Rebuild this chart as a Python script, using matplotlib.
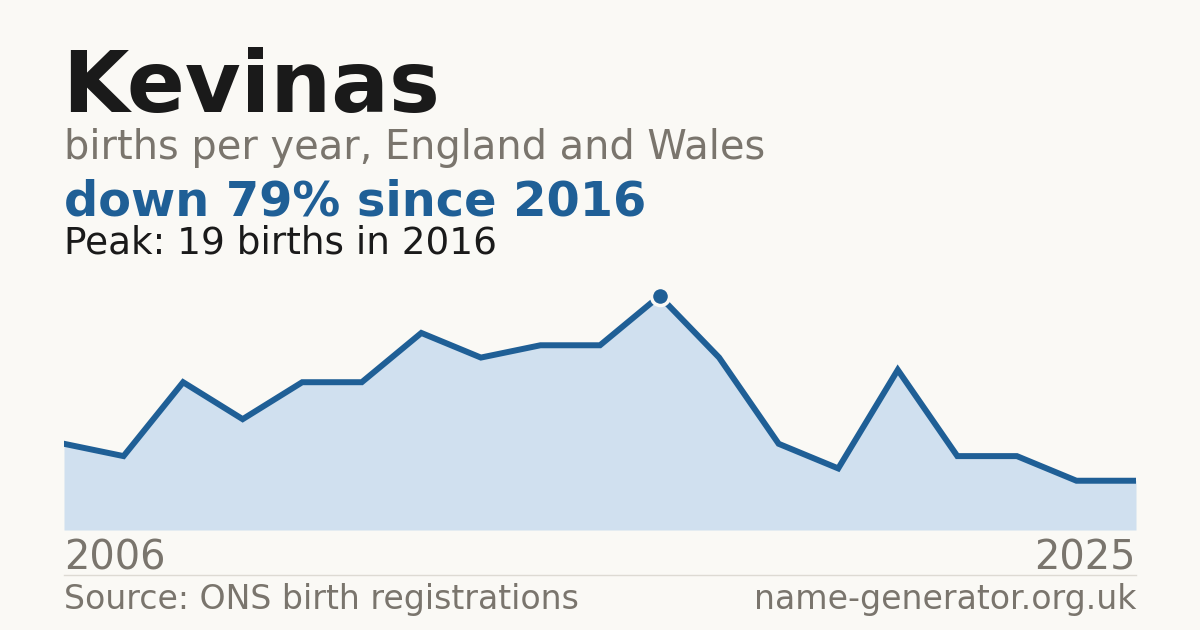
import matplotlib.pyplot as plt

# data (one year missing in the source series)
years = [2006, 2007, 2008, 2009, 2010, 2011, 2012, 2013, 2014, 2015,
         2016, 2017, 2018, 2019, 2020, 2021, 2022, 2023, 2025]
births = [7, 6, 12, 9, 12, 12, 16, 14, 15, 15,
          19, 14, 7, 5, 13, 6, 6, 4, 4]

name = "Kevinas"
subtitle = "births per year, England and Wales"
headline = "down 79% since 2016"
peak_text = "Peak: 19 births in 2016"
source = "Source: ONS birth registrations"
site = "name-generator.org.uk"

BG = "#faf9f5"
BLUE = "#1f5f96"
FILL = "#d0e0ef"
GREY = "#7a756d"
INK = "#1a1a1a"

W, H = 1200, 630
fig = plt.figure(figsize=(W / 100, H / 100), dpi=100, facecolor=BG)

def fx(px):
    return px / W

def fy(py):
    return 1 - py / H

left, right, top, bottom = 64, 1136, 280, 530
ax = fig.add_axes([fx(left), fy(bottom), fx(right - left), (bottom - top) / H])
ax.set_facecolor(BG)

xs = list(range(len(years)))
ymax = max(births) * (bottom - top) / (bottom - 296)
ax.fill_between(xs, births, 0, color=FILL, lw=0)
ax.plot(xs, births, color=BLUE, lw=4.3, solid_joinstyle="miter")
pk = births.index(max(births))
ax.plot(xs[pk], births[pk], "o", ms=13, color=BLUE, mec=BG, mew=2.5, clip_on=False, zorder=5)
ax.set_xlim(0, len(years) - 1)
ax.set_ylim(0, ymax)
ax.axis("off")

# header text
fig.text(fx(62), fy(112), name, fontsize=61.7, fontweight="bold", color=INK, va="baseline")
fig.text(fx(64), fy(159), subtitle, fontsize=28.7, color=GREY, va="baseline")
fig.text(fx(64), fy(215), headline, fontsize=34.5, fontweight="bold", color=BLUE, va="baseline")
fig.text(fx(64), fy(253), peak_text, fontsize=26.9, color=INK, va="baseline")

# year labels
fig.text(fx(64), fy(570), str(years[0]), fontsize=28.7, color=GREY, va="baseline")
fig.text(fx(1136), fy(570), str(years[-1]), fontsize=28.7, color=GREY, va="baseline", ha="right")

# separator and footer
fig.add_artist(plt.Line2D([fx(64), fx(1136)], [fy(574.5), fy(574.5)], color="#dddad3", lw=1))
fig.text(fx(64), fy(609), source, fontsize=23.9, color=GREY, va="baseline")
fig.text(fx(1136), fy(609), site, fontsize=23.9, color=GREY, va="baseline", ha="right")

fig.savefig("out.png", dpi=100, facecolor=BG)
